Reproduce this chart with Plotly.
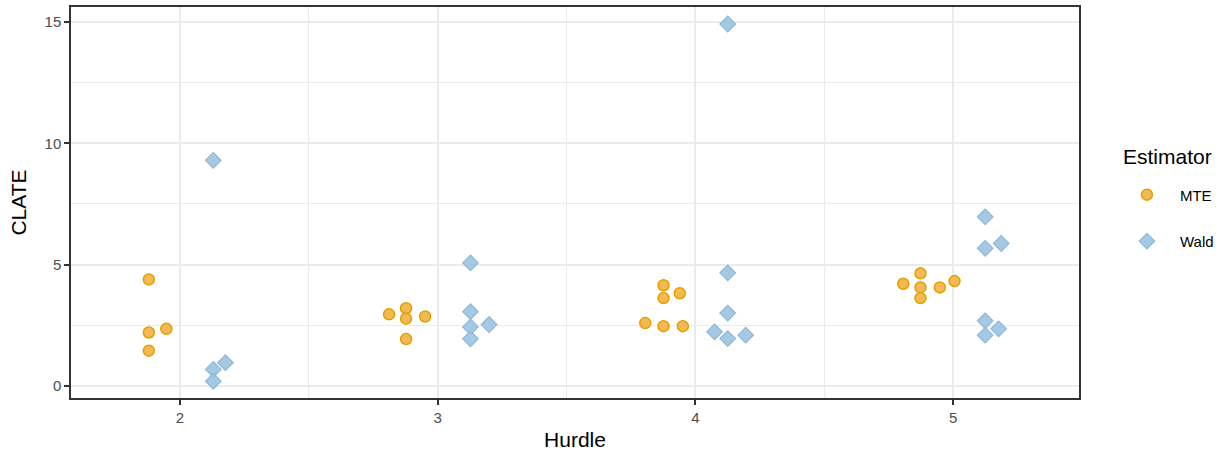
import plotly.graph_objects as go

# Jittered hurdle positions and CLATE estimates for each estimator
mte_hurdle = [1.879, 1.879, 1.947, 1.879,
              2.811, 2.877, 2.877, 2.951, 2.877,
              3.876, 3.876, 3.939, 3.805, 3.876, 3.951,
              4.873, 4.806, 4.873, 4.948, 5.005, 4.873]
mte_clate = [4.39, 2.20, 2.35, 1.45,
             2.95, 3.20, 2.77, 2.86, 1.93,
             4.15, 3.62, 3.82, 2.59, 2.46, 2.46,
             4.64, 4.21, 4.06, 4.06, 4.32, 3.62]

wald_hurdle = [2.129, 2.176, 2.129, 2.129,
               3.127, 3.127, 3.127, 3.199, 3.127,
               4.125, 4.125, 4.125, 4.074, 4.125, 4.195,
               5.124, 5.124, 5.186, 5.124, 5.176, 5.124]
wald_clate = [9.30, 0.955, 0.68, 0.19,
              5.07, 3.06, 2.43, 2.53, 1.94,
              14.92, 4.66, 3.00, 2.23, 1.95, 2.09,
              6.97, 5.67, 5.87, 2.68, 2.35, 2.09]

x_ticks = [2, 3, 4, 5]
y_ticks = [0, 5, 10, 15]

FONT = "Liberation Sans, Arial, sans-serif"
GRID = "#EBEBEB"
DARK = "#333333"
PLOT_H = 455 - 5 - 57
PLOT_W = 1224 - 71 - 144

fig = go.Figure()
fig.add_trace(go.Scatter(
    x=mte_hurdle, y=mte_clate, mode="markers", name="MTE",
    legendgroup="MTE",
    marker=dict(symbol="circle", size=11, color="rgba(240,182,74,0.95)",
                line=dict(color="#E69F00", width=1.5)),
))
fig.add_trace(go.Scatter(
    x=wald_hurdle, y=wald_clate, mode="markers", name="Wald",
    legendgroup="Wald",
    marker=dict(symbol="diamond", size=12, color="rgba(160,197,225,0.95)",
                line=dict(color="#8DB9DC", width=1.2)),
))

axis_common = dict(
    showline=True, linecolor=DARK, linewidth=1.5, mirror=True,
    ticks="outside", ticklen=5, tickwidth=1.5, tickcolor=DARK,
    tickfont=dict(family=FONT, size=15, color="#4D4D4D"),
    gridcolor=GRID, gridwidth=1.6, zeroline=False,
    minor=dict(showgrid=True, gridcolor=GRID, gridwidth=0.8, ticks=""),
)

fig.update_layout(
    width=1224, height=455,
    margin=dict(l=71, r=144, t=5, b=57),
    paper_bgcolor="white", plot_bgcolor="white",
    font=dict(family=FONT, color="black"),
    xaxis=dict(range=[1.577, 5.488], tickvals=x_ticks,
               title=dict(text="Hurdle", font=dict(family=FONT, size=21), standoff=8),
               **axis_common),
    yaxis=dict(range=[-0.5, 15.62], tickvals=y_ticks,
               title=dict(text="CLATE", font=dict(family=FONT, size=21), standoff=12),
               **axis_common),
    legend=dict(
        font=dict(family=FONT, size=15),
        bgcolor="rgba(0,0,0,0)",
        x=1 + 35 / PLOT_W, xanchor="left",
        y=1 - (217 - 5) / PLOT_H, yanchor="middle",
        tracegroupgap=24, itemwidth=56,
    ),
    annotations=[dict(
        text="Estimator", xref="paper", yref="paper",
        x=1 + 42 / PLOT_W, xanchor="left", y=1 - (155 - 5) / PLOT_H, yanchor="middle",
        showarrow=False, font=dict(family=FONT, size=21),
    )],
)
fig.update_xaxes(minor=dict(tickvals=[2.5, 3.5, 4.5]))
fig.update_yaxes(minor=dict(tickvals=[2.5, 7.5, 12.5]))

fig.write_html("out.html")
